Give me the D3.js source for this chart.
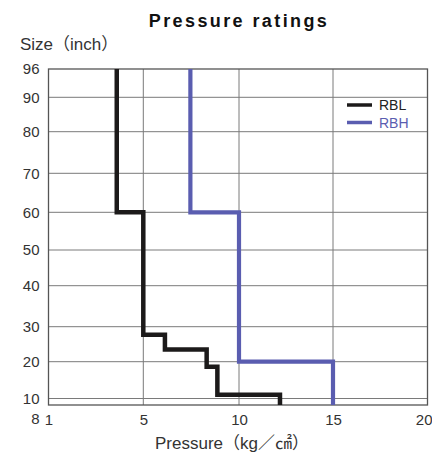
<!DOCTYPE html>
<html>
<head>
<meta charset="utf-8">
<script src="https://cdn.jsdelivr.net/npm/d3@7"></script>
<style>
  body { margin: 0; background: #fff; }
  text { font-family: "Liberation Sans", Arial, "Noto Sans CJK JP", sans-serif; }
</style>
</head>
<body>
<script>
// tick values
let xTicks = [1, 5, 10, 15, 20];
let yTicks = [8, 10, 20, 30, 40, 50, 60, 70, 80, 90, 96];

// step lines: pressure for each size band, sizes at band edges (top to bottom)
let rblPressure = [3.88, 5, 6.13, 8.31, 8.87, 12.18];
let rblSizes    = [96, 60, 27.7, 23.5, 18.6, 11, 8];
let rbhPressure = [7.46, 10, 15];
let rbhSizes    = [96, 60, 20, 8];

let series = [
  {name: "RBL", color: "#1c1a1a", width: 4.5, p: rblPressure, s: rblSizes},
  {name: "RBH", color: "#5a5db0", width: 4.2, p: rbhPressure, s: rbhSizes}
];

let W = 432, H = 455;

let svg = d3.select("body").append("svg")
    .attr("width", W)
    .attr("height", H);

// scales follow the uneven grid of the original
let xScale = d3.scaleLinear()
    .domain(xTicks)
    .range([48.5, 143.3, 239, 333, 427.5]);
let yScale = d3.scaleLinear()
    .domain(yTicks)
    .range([405, 398.5, 361.7, 326.7, 285.7, 250, 212.3, 173.3, 131.7, 97.3, 69]);

let x0 = xScale(1), x1 = xScale(20), y0 = yScale(8), y1 = yScale(96);

// grid
let grid = svg.append("g");
grid.selectAll("line.gx")
    .data(xTicks.slice(1, -1))
    .enter().append("line")
      .attr("x1", d => xScale(d)).attr("x2", d => xScale(d))
      .attr("y1", y1).attr("y2", y0)
      .attr("stroke", "#7a7a7a").attr("stroke-width", 1);
grid.selectAll("line.gy")
    .data(yTicks.slice(1, -1))
    .enter().append("line")
      .attr("x1", x0).attr("x2", x1)
      .attr("y1", d => yScale(d)).attr("y2", d => yScale(d))
      .attr("stroke", "#7a7a7a").attr("stroke-width", 1);

svg.append("rect")
    .attr("x", x0).attr("y", y1)
    .attr("width", x1 - x0).attr("height", y0 - y1)
    .attr("fill", "none")
    .attr("stroke", "#555").attr("stroke-width", 1.3);

// axes (labels only)
let xAxis = d3.axisBottom(xScale).tickValues(xTicks).tickSize(0).tickPadding(9);
let yAxis = d3.axisLeft(yScale).tickValues(yTicks).tickSize(0).tickPadding(9);

let gx = svg.append("g")
    .attr("transform", `translate(0, ${y0})`)
    .call(xAxis);
let gy = svg.append("g")
    .attr("transform", `translate(${x0}, 0)`)
    .call(yAxis);

[gx, gy].forEach(g => {
  g.select(".domain").remove();
  g.selectAll("text")
      .attr("font-size", 15)
      .attr("fill", "#333")
      .attr("font-family", null);
});
// the "8" sits on the same line as the x labels
gy.selectAll(".tick").filter(d => d === 8).select("text")
    .attr("dy", "1.25em");
// last x label runs against the page edge
gx.selectAll(".tick").filter(d => d === 20).select("text")
    .attr("text-anchor", "end")
    .attr("x", 4.5);

// step lines
let line = d3.line()
    .x(d => xScale(d[0]))
    .y(d => yScale(d[1]));

series.forEach(sr => {
  let pts = [];
  sr.p.forEach((p, i) => {
    pts.push([p, sr.s[i]]);
    pts.push([p, sr.s[i + 1]]);
  });
  svg.append("path")
      .datum(pts)
      .attr("d", line)
      .attr("fill", "none")
      .attr("stroke", sr.color)
      .attr("stroke-width", sr.width)
      .attr("stroke-linejoin", "miter")
      .attr("stroke-linecap", "butt");
});

// legend
let legend = svg.append("g").attr("transform", "translate(347, 105)");
series.forEach((sr, i) => {
  legend.append("line")
      .attr("x1", 0).attr("x2", 25)
      .attr("y1", i * 17.5).attr("y2", i * 17.5)
      .attr("stroke", sr.color).attr("stroke-width", 3.5);
  legend.append("text")
      .attr("x", 32).attr("y", i * 17.5 + 5)
      .attr("font-size", 14)
      .attr("fill", i === 0 ? "#222" : sr.color)
      .text(sr.name);
});

// titles
svg.append("text")
    .attr("x", 239).attr("y", 27)
    .attr("text-anchor", "middle")
    .attr("font-family", "'DejaVu Sans', sans-serif")
    .attr("font-size", 18)
    .attr("font-weight", "bold")
    .attr("letter-spacing", 2.4)
    .attr("fill", "#111")
    .text("Pressure ratings");

svg.append("text")
    .attr("x", 20).attr("y", 50)
    .attr("font-size", 17)
    .attr("fill", "#333")
    .text("Size（inch）");

svg.append("text")
    .attr("x", 232).attr("y", 449)
    .attr("text-anchor", "middle")
    .attr("font-size", 17)
    .attr("fill", "#333")
    .text("Pressure（kg／㎠）");
</script>
</body>
</html>
